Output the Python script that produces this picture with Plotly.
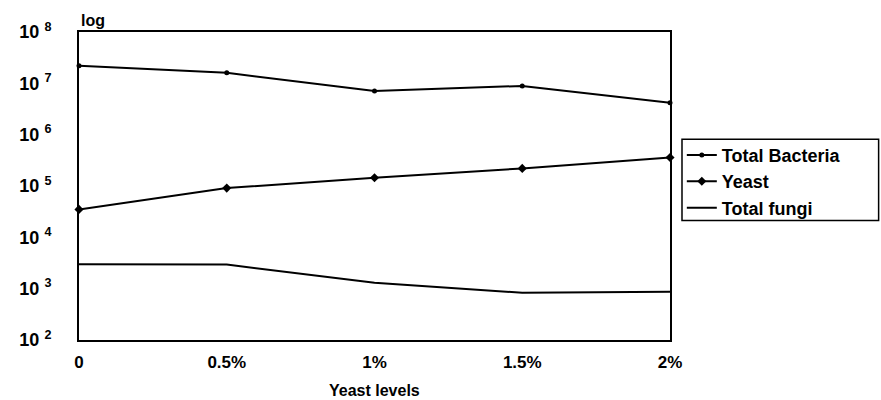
import plotly.graph_objects as go

# Yeast supplementation levels (fraction of diet, %)
levels = [0, 0.5, 1.0, 1.5, 2.0]
level_labels = ["0", "0.5%", "1%", "1.5%", "2%"]

# Microbial counts (CFU, log scale)
total_bacteria = [2.2e7, 1.6e7, 7.1e6, 8.9e6, 4.2e6]
yeast = [3.5e4, 9.1e4, 1.45e5, 2.2e5, 3.6e5]
total_fungi = [3.0e3, 2.95e3, 1.3e3, 8.3e2, 8.7e2]

# Decade tick marks for the log axis
decade_vals = [1e2, 1e3, 1e4, 1e5, 1e6, 1e7, 1e8]
decade_text = ["10 <sup>2</sup>", "10 <sup>3</sup>", "10 <sup>4</sup>", "10 <sup>5</sup>",
               "10 <sup>6</sup>", "10 <sup>7</sup>", "10 <sup>8</sup>"]

FONT = "Liberation Sans, Arial, sans-serif"

fig = go.Figure()
fig.add_trace(go.Scatter(
    x=levels, y=total_bacteria, name="Total Bacteria", mode="lines+markers",
    line=dict(color="black", width=2),
    marker=dict(symbol="circle", size=5, color="black"),
    cliponaxis=False,
))
fig.add_trace(go.Scatter(
    x=levels, y=yeast, name="Yeast", mode="lines+markers",
    line=dict(color="black", width=2),
    marker=dict(symbol="diamond", size=7, color="black"),
    cliponaxis=False,
))
fig.add_trace(go.Scatter(
    x=levels, y=total_fungi, name="Total fungi", mode="lines",
    line=dict(color="black", width=2),
    cliponaxis=False,
))

fig.update_layout(
    width=881, height=400,
    margin=dict(l=79, r=211, t=32, b=60),
    paper_bgcolor="white", plot_bgcolor="white",
    font=dict(family=FONT, size=15, color="black", weight="bold"),
    showlegend=True,
    legend=dict(
        x=1.02, xanchor="left", y=0.66, yanchor="top",
        borderwidth=0, bgcolor="rgba(0,0,0,0)",
        font=dict(family=FONT, size=18, color="black", weight="bold"),
        tracegroupgap=0, itemwidth=30,
    ),
    xaxis=dict(
        range=[0, 2], tickvals=levels, ticktext=level_labels,
        showgrid=False, zeroline=False, automargin=False,
        showline=True, linecolor="black", linewidth=2, mirror=True,
        ticks="", ticklabelstandoff=6,
        tickfont=dict(family=FONT, size=17, color="black", weight="bold"),
    ),
    yaxis=dict(
        type="log", range=[2, 8],
        tickvals=decade_vals, ticktext=decade_text,
        showgrid=False, zeroline=False, automargin=False,
        showline=True, linecolor="black", linewidth=2, mirror=True,
        ticks="", ticklabelstandoff=22,
        tickfont=dict(family=FONT, size=18, color="black", weight="bold"),
    ),
)

# Legend frame, running out to the right edge of the page
fig.add_shape(
    type="rect", xref="paper", yref="paper",
    x0=1.0203, x1=1.353, y0=0.388, y1=0.652,
    line=dict(color="black", width=1.5), fillcolor="rgba(0,0,0,0)", layer="above",
)

# "log" caption above the value axis
fig.add_annotation(
    text="log", xref="paper", yref="paper", x=0, y=1, xanchor="left", yanchor="bottom",
    yshift=1, showarrow=False,
    font=dict(family=FONT, size=16, color="black", weight="bold"),
)

# Category axis title below the tick labels
fig.add_annotation(
    text="Yeast levels", xref="paper", yref="paper", x=0.5, y=0,
    xanchor="center", yanchor="middle", yshift=-50, showarrow=False,
    font=dict(family=FONT, size=16, color="black", weight="bold"),
)

fig.write_html("out.html")
